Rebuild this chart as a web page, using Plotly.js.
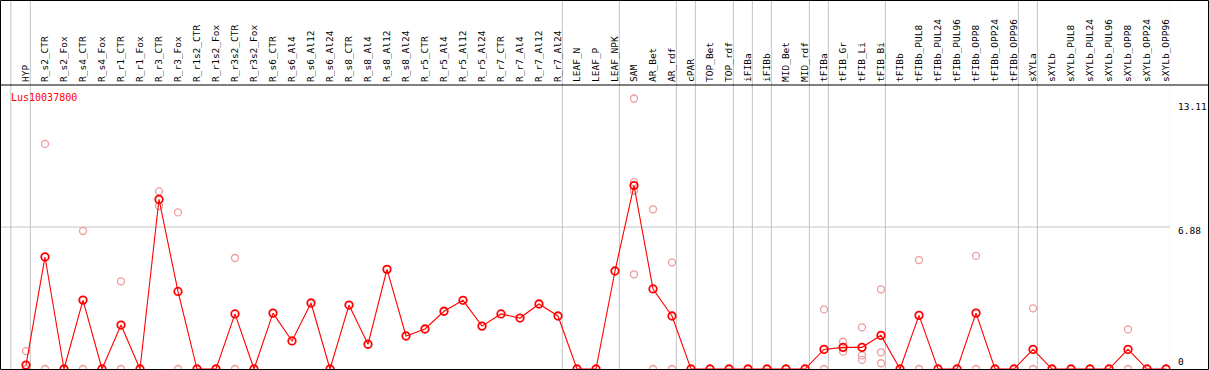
<!DOCTYPE html>
<html><head><meta charset="utf-8">
<script src="https://cdn.plot.ly/plotly-3.0.1.min.js"></script>
<style>html,body{margin:0;padding:0;background:#fff}#chart{width:1209px;height:370px}</style>
</head><body><div id="chart"></div>
<script>
const geneName = "Lus10037800";
const categories = ["HYP","R_s2_CTR","R_s2_Fox","R_s4_CTR","R_s4_Fox","R_r1_CTR","R_r1_Fox","R_r3_CTR","R_r3_Fox","R_r1s2_CTR","R_r1s2_Fox","R_r3s2_CTR","R_r3s2_Fox","R_s6_CTR","R_s6_Al4","R_s6_Al12","R_s6_Al24","R_s8_CTR","R_s8_Al4","R_s8_Al12","R_s8_Al24","R_r5_CTR","R_r5_Al4","R_r5_Al12","R_r5_Al24","R_r7_CTR","R_r7_Al4","R_r7_Al12","R_r7_Al24","LEAF_N","LEAF_P","LEAF_NPK","SAM","AR_Bet","AR_rdf","cPAR","TOP_Bet","TOP_rdf","iFIBa","iFIBb","MID_Bet","MID_rdf","tFIBa","tFIB_Gr","tFIB_Li","tFIB_Bi","tFIBb","tFIBb_PUL8","tFIBb_PUL24","tFIBb_PUL96","tFIBb_OPP8","tFIBb_OPP24","tFIBb_OPP96","sXYLa","sXYLb","sXYLb_PUL8","sXYLb_PUL24","sXYLb_PUL96","sXYLb_OPP8","sXYLb_OPP24","sXYLb_OPP96"];
const meanValues = [0.19,5.43,0,3.34,0,2.13,0,8.22,3.76,0,0,2.67,0,2.71,1.36,3.20,0,3.10,1.20,4.83,1.60,1.94,2.80,3.33,2.08,2.67,2.47,3.15,2.57,0,0,4.75,8.89,3.88,2.57,0,0,0,0,0,0,0,0.95,1.05,1.05,1.63,0,2.60,0,0,2.71,0,0,0.95,0,0,0,0,0.95,0,0];
const repCategories = ["HYP","HYP","R_s2_CTR","R_s2_CTR","R_s4_CTR","R_s4_CTR","R_r1_CTR","R_r1_CTR","R_r3_CTR","R_r3_CTR","R_r3_Fox","R_r3_Fox","R_r3s2_CTR","R_r3s2_CTR","SAM","SAM","SAM","SAM","AR_Bet","AR_Bet","AR_rdf","AR_rdf","tFIBa","tFIBa","tFIB_Gr","tFIB_Gr","tFIB_Li","tFIB_Li","tFIB_Li","tFIB_Bi","tFIB_Bi","tFIB_Bi","tFIBb_PUL8","tFIBb_PUL8","tFIBb_OPP8","tFIBb_OPP8","sXYLa","sXYLa","sXYLb_OPP8","sXYLb_OPP8"];
const repValues = [0.87,0,10.91,0,6.69,0,4.25,0,8.61,7.90,7.59,0,5.38,0,13.11,9.06,8.64,4.59,7.74,0,5.17,0,2.89,0,1.32,0.84,2.02,0.66,0.44,3.86,0.81,0.28,5.28,0,5.48,0,2.94,0,1.92,0];
const groupEnds = ["HYP","R_r7_Al24","LEAF_NPK","AR_rdf","cPAR","TOP_rdf","iFIBa","iFIBb","MID_rdf","tFIBa","tFIB_Bi","tFIBb_OPP96","sXYLa","sXYLb_OPP96"];
const yTickVals = [0, 6.88, 13.11];
const yTickText = ["0", "6.88", "13.11"];

// layout geometry (pixels)
const W = 1209, H = 370, ML = 2, MR = 39, MT = 85, MB = 0;
const PW = W - ML - MR, PH = H - MT - MB;
const px2x = p => (p - ML) / PW;
const py2y = p => (H - MB - p) / PH;
const mono = "DejaVu Sans Mono, monospace";

const traces = [
  {x: repCategories, y: repValues, type: "scatter", mode: "markers", cliponaxis: false,
   marker: {symbol: "circle-open", size: 7, color: "#ee9a9a", line: {width: 1.3, color: "#ee9a9a"}}, hoverinfo: "x+y"},
  {x: categories, y: meanValues, type: "scatter", mode: "lines+markers", cliponaxis: false,
   line: {color: "#ff0000", width: 1.1},
   marker: {symbol: "circle-open", size: 7.5, color: "#ff0000", line: {width: 1.8, color: "#ff0000"}}}
];

const shapes = [];
// group separators
const sepX = [-0.8].concat(groupEnds.map(c => categories.indexOf(c) + 0.23));
sepX.forEach(x => shapes.push({type: "line", xref: "x", yref: "paper", x0: x, x1: x, y0: py2y(0), y1: py2y(H), line: {color: "#c4c4c4", width: 1}, layer: "below"}));
// grid line at middle tick
shapes.push({type: "line", xref: "paper", yref: "y", x0: px2x(0), x1: 1, y0: yTickVals[1], y1: yTickVals[1], line: {color: "#c4c4c4", width: 1}, layer: "below"});
// header separator and outer border
shapes.push({type: "line", xref: "paper", yref: "paper", x0: px2x(0), x1: px2x(W), y0: py2y(85), y1: py2y(85), line: {color: "#000", width: 1.2}});
shapes.push({type: "rect", xref: "paper", yref: "paper", x0: px2x(0.5), x1: px2x(W - 0.5), y0: py2y(0.5), y1: py2y(H - 0.5), line: {color: "#000", width: 1}});

const labelShift = [7.5, -3.4, -8.5];
const annotations = yTickVals.map((v, i) => ({
  xref: "paper", yref: "y", x: px2x(1176), y: v, xanchor: "left", yanchor: "middle", yshift: labelShift[i],
  text: yTickText[i], showarrow: false, font: {family: mono, size: 9.5, color: "#000"}
}));
annotations.push({xref: "paper", yref: "paper", x: px2x(9), y: py2y(97), xanchor: "left", yanchor: "middle",
  text: geneName, showarrow: false, font: {family: mono, size: 10, color: "#ff0000"}});

const layout = {
  width: W, height: H, margin: {l: ML, r: MR, t: MT, b: MB, pad: 0},
  paper_bgcolor: "#fff", plot_bgcolor: "#fff", showlegend: false,
  xaxis: {type: "category", categoryorder: "array", categoryarray: categories, side: "top",
    range: [-1.263, 60.21], showgrid: false, zeroline: false, showline: false, ticks: "",
    tickangle: -90, tickfont: {family: mono, size: 9.5, color: "#000"}, ticklabelstandoff: 2,
    ticklabelshift: -1.5, fixedrange: true},
  yaxis: {range: [-0.048, 13.764], showgrid: false, zeroline: false, showline: false, ticks: "",
    showticklabels: false, fixedrange: true},
  shapes: shapes, annotations: annotations
};
Plotly.newPlot("chart", traces, layout, {displayModeBar: false, staticPlot: true});
</script></body></html>
